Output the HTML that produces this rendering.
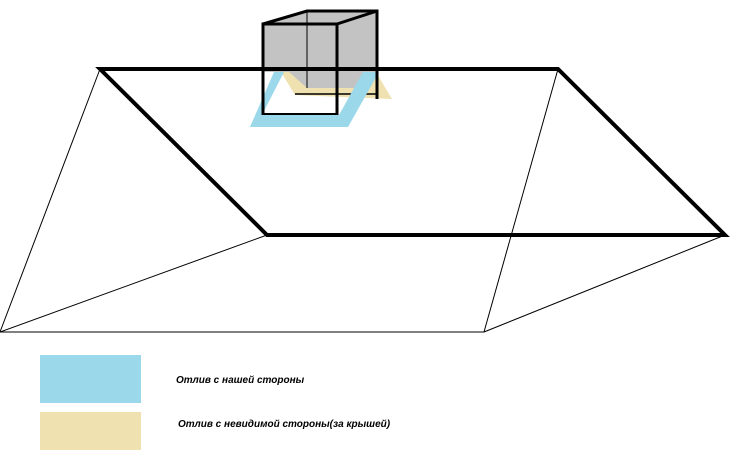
<!DOCTYPE html>
<html><head><style>
body{margin:0;background:#fff;width:745px;height:466px;overflow:hidden}
</style></head><body>
<svg width="745" height="466" xmlns="http://www.w3.org/2000/svg">
<rect width="745" height="466" fill="#fff"/>
<g stroke="#000" stroke-width="1" fill="none">
<polyline points="100,69 0,332 484,332 558,69"/>
<line x1="0" y1="332" x2="267" y2="235"/>
<line x1="484" y1="332" x2="725" y2="235"/>
</g>
<!-- gray chimney -->
<polygon points="263,24 307,10 377,10 377,72 370,72 355,88 307,88 279,72 263,72" fill="#c3c3c3"/>
<!-- beige flashing -->
<path d="M281,72 L295,95 L392,99 L376,72 Z M289,72 L307,88 L356,88 L368,72 Z" fill="#efe1b0" fill-rule="evenodd"/>
<line x1="295" y1="94" x2="378" y2="94" stroke="#000" stroke-width="1.5"/>
<!-- blue flashing -->
<path d="M250,127 L348,127 L379,72 L274,72 Z M262,115 L339,115 L363,72 L284,72 Z" fill="#9bd8ea" fill-rule="evenodd"/>
<g stroke="#000" fill="none">
<polyline points="263,115 263,24 337,24 337,115" stroke-width="3"/>
<line x1="263" y1="114" x2="337" y2="114" stroke-width="2"/>
<polyline points="263,24 307,11 377,11 377,99" stroke-width="3"/>
<line x1="337" y1="24" x2="377" y2="11" stroke-width="3"/>
<line x1="307" y1="11" x2="307" y2="88" stroke-width="1"/>
</g>
<polygon points="100,69 558,69 725,235 267,235" fill="none" stroke="#000" stroke-width="4"/>
<rect x="40" y="355" width="101" height="48" fill="#9bd8ea"/>
<rect x="40" y="412" width="101" height="38" fill="#efe1b0"/>
<text x="176" y="383" font-family="Liberation Sans, DejaVu Sans, sans-serif" font-size="10" font-weight="bold" font-style="italic">Отлив с нашей стороны</text>
<text x="178" y="427" font-family="Liberation Sans, DejaVu Sans, sans-serif" font-size="10" font-weight="bold" font-style="italic">Отлив с невидимой стороны(за крышей)</text>
</svg>
</body></html>
